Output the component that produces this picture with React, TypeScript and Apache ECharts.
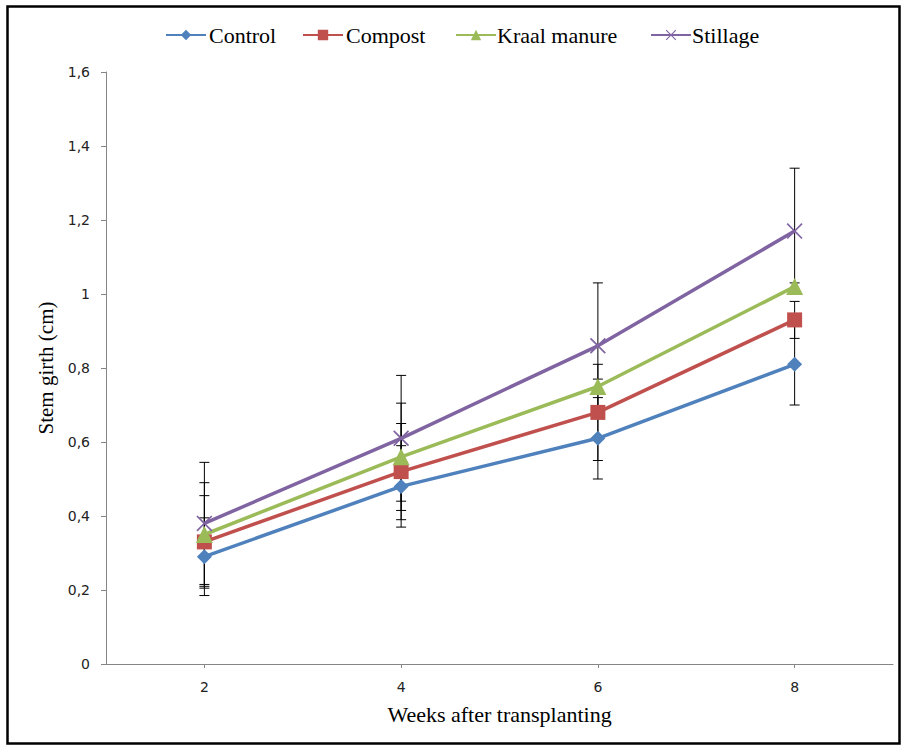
import React, { useEffect, useRef } from "react";
import * as echarts from "echarts";

const categories = ["2", "4", "6", "8"];
const seriesNames = ["Control", "Compost", "Kraal manure", "Stillage"];
const control = [0.29, 0.48, 0.61, 0.81];
const compost = [0.33, 0.52, 0.68, 0.93];
const kraal = [0.35, 0.56, 0.75, 1.02];
const stillage = [0.38, 0.61, 0.86, 1.17];
const controlErr = [0.105, 0.11, 0.11, 0.11];
const compostErr = [0.125, 0.13, 0.13, 0.05];
const kraalErr = [0.14, 0.145, 0.02, 0.01];
const stillageErr = [0.165, 0.17, 0.17, 0.17];
const yTicks = { min: 0, max: 1.6, interval: 0.2 };

const colors = ["#4F81BD", "#C0504D", "#9BBB59", "#8064A2"];
const symbols = [
  "diamond",
  "rect",
  "triangle",
  "path://M1.5,0L10,8.5L18.5,0L20,1.5L11.5,10L20,18.5L18.5,20L10,11.5L1.5,20L0,18.5L8.5,10L0,1.5Z",
];
const symbolSizes = [15, 15, 17, 16];
// legend layout (icon left edges, label left edges, vertical centre)
const legendIconX = [165, 302, 455, 650];
const legendTextX = [209, 346, 497, 692];
const legendY = 35;

const SERIF = "Liberation Serif";

export default function App() {
  const ref = useRef<HTMLDivElement>(null);
  useEffect(() => {
    if (!ref.current) return;
    const chart = echarts.init(ref.current, null, { renderer: "svg" });
    const values = [control, compost, kraal, stillage];
    const errs = [controlErr, compostErr, kraalErr, stillageErr];

    const errData: number[][] = [];
    values.forEach((vals, si) => {
      vals.forEach((v, i) => {
        errData.push([i, v - errs[si][i], v + errs[si][i]]);
      });
    });

    const lineSeries = values.map((vals, si) => ({
      name: seriesNames[si],
      type: "line",
      data: vals,
      symbol: symbols[si],
      symbolSize: symbolSizes[si],
      showAllSymbol: true,
      z: 3,
      lineStyle: { color: colors[si], width: 3.5 },
      itemStyle: { color: colors[si], borderWidth: 0 },
    }));

    const legends = seriesNames.map((n, i) => ({
      data: [n],
      top: legendY - 6.5,
      left: legendIconX[i],
      padding: 0,
      itemWidth: 40,
      itemHeight: 13,
      selectedMode: false,
      formatter: () => "",
      textStyle: { fontSize: 1, padding: 0 },
    }));

    const legendTexts = seriesNames.map((n, i) => ({
      type: "text",
      x: legendTextX[i],
      y: legendY,
      silent: true,
      style: {
        text: n,
        fontFamily: SERIF,
        fontSize: 22,
        fill: "#000",
        align: "left",
        verticalAlign: "middle",
      },
    }));

    chart.setOption({
      animation: false,
      backgroundColor: "#ffffff",
      textStyle: { fontFamily: SERIF },
      graphic: [
        {
          type: "rect",
          shape: { x: 7.5, y: 6.5, width: 892, height: 737 },
          style: { fill: "none", stroke: "#000", lineWidth: 2.5 },
          silent: true,
        },
        ...legendTexts,
      ],
      legend: legends,
      grid: { left: 106, right: 11, top: 72, bottom: 83 },
      xAxis: {
        type: "category",
        data: categories,
        boundaryGap: true,
        name: "Weeks after transplanting",
        nameLocation: "middle",
        nameGap: 39,
        nameTextStyle: {
          fontFamily: SERIF,
          fontSize: 22,
          color: "#000",
        },
        axisLine: { lineStyle: { color: "#868686", width: 1 } },
        axisTick: {
          show: true,
          alignWithLabel: true,
          length: 4,
          lineStyle: { color: "#868686" },
        },
        axisLabel: {
          fontFamily: "DejaVu Sans",
          fontSize: 14,
          color: "#222",
          margin: 16,
        },
        splitLine: { show: false },
      },
      yAxis: {
        type: "value",
        min: yTicks.min,
        max: yTicks.max,
        interval: yTicks.interval,
        name: "Stem girth (cm)",
        nameLocation: "middle",
        nameGap: 50,
        nameTextStyle: {
          fontFamily: SERIF,
          fontSize: 21,
          color: "#000",
        },
        axisLine: { show: true, lineStyle: { color: "#868686", width: 1 } },
        axisTick: { show: true, length: 5, lineStyle: { color: "#868686" } },
        axisLabel: {
          fontFamily: "DejaVu Sans",
          fontSize: 14,
          color: "#222",
          margin: 16,
          formatter: (v: number) => String(Math.round(v * 10) / 10).replace(".", ","),
        },
        splitLine: { show: false },
      },
      series: [
        {
          name: "errors",
          type: "custom",
          z: 1,
          silent: true,
          data: errData,
          encode: { x: 0, y: [1, 2] },
          renderItem: (params: any, api: any) => {
            const x = api.value(0);
            const lo = api.coord([x, api.value(1)]);
            const hi = api.coord([x, api.value(2)]);
            const cap = 5;
            const style = { stroke: "#000", lineWidth: 1 };
            return {
              type: "group",
              children: [
                { type: "line", shape: { x1: lo[0], y1: lo[1], x2: hi[0], y2: hi[1] }, style },
                { type: "line", shape: { x1: lo[0] - cap, y1: lo[1], x2: lo[0] + cap, y2: lo[1] }, style },
                { type: "line", shape: { x1: hi[0] - cap, y1: hi[1], x2: hi[0] + cap, y2: hi[1] }, style },
              ],
            };
          },
        },
        ...lineSeries,
      ],
    });
    return () => chart.dispose();
  }, []);
  return (
    <div
      ref={ref}
      style={{ position: "absolute", left: 0, top: 0, width: 904, height: 747 }}
    />
  );
}
